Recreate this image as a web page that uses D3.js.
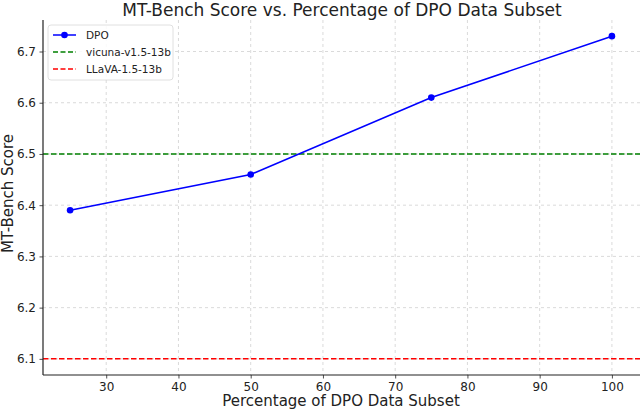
<!DOCTYPE html>
<html><head><meta charset="utf-8">
<script src="https://cdn.jsdelivr.net/npm/d3@7"></script>
<style>body{margin:0;background:#fff}svg{display:block;font-family:"DejaVu Sans",sans-serif}</style>
</head><body>
<svg id="c" width="640" height="410"></svg>
<script>
const percentages = [25, 50, 75, 100];
const dpoScores = [6.39, 6.46, 6.61, 6.73];
const vicunaScore = 6.5;
const llavaScore = 6.1;
const xTicks = [30, 40, 50, 60, 70, 80, 90, 100];
const yTicks = [6.1, 6.2, 6.3, 6.4, 6.5, 6.6, 6.7];
const legendLabels = ["DPO", "vicuna-v1.5-13b", "LLaVA-1.5-13b"];

const svg = d3.select("#c");
const m = {l: 43, t: 20, r: 1, b: 35};
const W = 640, H = 410;
const x = d3.scaleLinear().domain([21.25, 103.75]).range([m.l, W - m.r]);
const y = d3.scaleLinear().domain([6.0685, 6.7615]).range([H - m.b, m.t]);

// grid
const g = svg.append("g");
g.selectAll(".gx").data(xTicks).join("line")
  .attr("x1", d => x(d)).attr("x2", d => x(d)).attr("y1", m.t).attr("y2", H - m.b)
  .attr("stroke", "#d0d0d0").attr("stroke-width", 0.8).attr("stroke-dasharray", "3,3");
g.selectAll(".gy").data(yTicks).join("line")
  .attr("y1", d => y(d)).attr("y2", d => y(d)).attr("x1", m.l).attr("x2", W)
  .attr("stroke", "#d0d0d0").attr("stroke-width", 0.8).attr("stroke-dasharray", "3,3");

// reference lines
svg.append("line").attr("x1", m.l).attr("x2", W).attr("y1", y(vicunaScore)).attr("y2", y(vicunaScore))
  .attr("stroke", "green").attr("stroke-width", 1.5).attr("stroke-dasharray", "5.5,2.5");
svg.append("line").attr("x1", m.l).attr("x2", W).attr("y1", y(llavaScore)).attr("y2", y(llavaScore))
  .attr("stroke", "red").attr("stroke-width", 1.5).attr("stroke-dasharray", "5.5,2.5");

// DPO line
const pts = percentages.map((p, i) => [p, dpoScores[i]]);
svg.append("path").datum(pts).attr("fill", "none").attr("stroke", "blue").attr("stroke-width", 1.6)
  .attr("d", d3.line().x(d => x(d[0])).y(d => y(d[1])));
svg.selectAll(".pt").data(pts).join("circle")
  .attr("cx", d => x(d[0])).attr("cy", d => y(d[1])).attr("r", 3.3).attr("fill", "blue");

// axes
const xa = svg.append("g").attr("transform", `translate(0,${H - m.b})`)
  .call(d3.axisBottom(x).tickValues(xTicks).tickSize(3.5).tickPadding(3.5).tickFormat(d3.format("d")));
const ya = svg.append("g").attr("transform", `translate(${m.l},0)`)
  .call(d3.axisLeft(y).tickValues(yTicks).tickSize(3.5).tickPadding(3.5).tickFormat(d3.format(".1f")));
[xa, ya].forEach(a => {
  a.selectAll("text").attr("font-size", 12).attr("fill", "#222").attr("font-family", "DejaVu Sans");
  a.selectAll("line").attr("stroke", "#222").attr("stroke-width", 0.8);
  a.select(".domain").attr("stroke", "#222").attr("stroke-width", 1.2);
});
xa.select(".domain").attr("d", `M${m.l},0H${W}`);
ya.select(".domain").attr("d", `M0,${m.t}V${H - m.b}`);

// title & labels
svg.append("text").attr("x", 342).attr("y", 16).attr("text-anchor", "middle")
  .attr("font-size", 17).attr("fill", "#222").text("MT-Bench Score vs. Percentage of DPO Data Subset");
svg.append("text").attr("x", 341).attr("y", 406).attr("text-anchor", "middle")
  .attr("font-size", 15).attr("fill", "#222").text("Percentage of DPO Data Subset");
svg.append("text").attr("transform", `translate(13,${(m.t + H - m.b) / 2 - 4}) rotate(-90)`)
  .attr("text-anchor", "middle").attr("font-size", 15).attr("fill", "#222").text("MT-Bench Score");

// legend
const lg = svg.append("g").attr("transform", "translate(48,25)");
lg.append("rect").attr("width", 125).attr("height", 55).attr("rx", 3)
  .attr("fill", "white").attr("fill-opacity", 0.85).attr("stroke", "#d8d8d8").attr("stroke-width", 0.8);
const colors = ["blue", "green", "red"];
legendLabels.forEach((lab, i) => {
  const yy = 10 + i * 17;
  lg.append("line").attr("x1", 5).attr("x2", 28).attr("y1", yy).attr("y2", yy)
    .attr("stroke", colors[i]).attr("stroke-width", 1.5)
    .attr("stroke-dasharray", i === 0 ? null : "5,2.5");
  if (i === 0) lg.append("circle").attr("cx", 16.5).attr("cy", yy).attr("r", 3.3).attr("fill", "blue");
  lg.append("text").attr("x", 38).attr("y", yy + 4).attr("font-size", 10.5).attr("fill", "#222").text(lab);
});
</script>
</body></html>
